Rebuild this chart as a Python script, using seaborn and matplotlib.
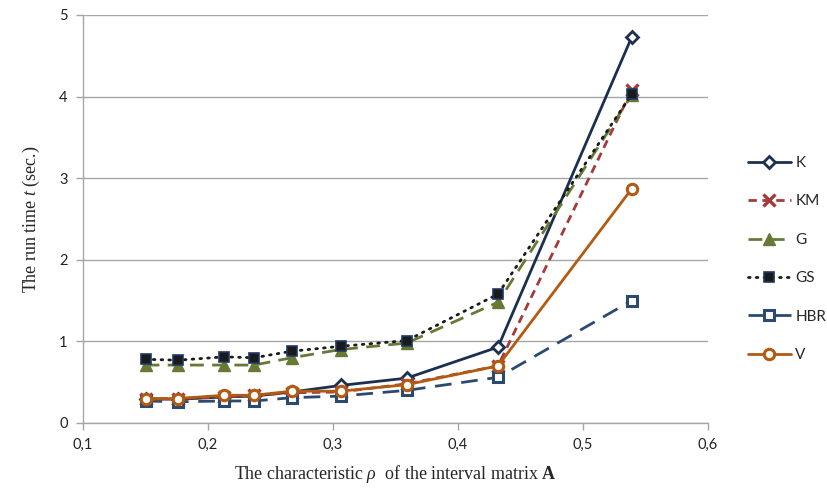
import matplotlib
matplotlib.use("Agg")
import matplotlib.pyplot as plt
import seaborn as sns
from matplotlib.ticker import FuncFormatter, MultipleLocator

rho = [0.150, 0.176, 0.213, 0.237, 0.267, 0.306, 0.359, 0.432, 0.539]
series_names = ["K", "KM", "G", "GS", "HBR", "V"]
K = [0.30, 0.29, 0.32, 0.33, 0.38, 0.46, 0.55, 0.93, 4.73]
KM = [0.29, 0.30, 0.32, 0.34, 0.37, 0.38, 0.48, 0.70, 4.08]
G = [0.71, 0.71, 0.71, 0.71, 0.80, 0.90, 0.98, 1.48, 4.02]
GS = [0.78, 0.77, 0.81, 0.80, 0.88, 0.94, 1.01, 1.58, 4.03]
HBR = [0.27, 0.26, 0.27, 0.27, 0.31, 0.33, 0.40, 0.56, 1.50]
V = [0.29, 0.30, 0.34, 0.34, 0.39, 0.39, 0.47, 0.70, 2.87]
values = {"K": K, "KM": KM, "G": G, "GS": GS, "HBR": HBR, "V": V}

sns.set_theme(style="white")
plt.rcParams["font.family"] = ["Lato", "DejaVu Sans"]
plt.rcParams["mathtext.fontset"] = "custom"
plt.rcParams["mathtext.rm"] = "Liberation Serif"
plt.rcParams["mathtext.it"] = "Liberation Serif:italic"
plt.rcParams["mathtext.bf"] = "Liberation Serif:bold"

fig = plt.figure(figsize=(8.27, 4.91), dpi=100)
ax = fig.add_axes([83 / 827, 1 - 423 / 491, (708 - 83) / 827, (423 - 15) / 491])

styles = {
    "K": dict(color="#1B2F4F", marker="D", markersize=6, markerfacecolor="white",
              markeredgecolor="#1B2F4F", markeredgewidth=2.0, linestyle="-"),
    "KM": dict(color="#A63A3A", marker="x", markersize=8, markeredgewidth=2.4,
               markeredgecolor="#A63A3A", linestyle=(0, (3, 2))),
    "G": dict(color="#667A35", marker="^", markersize=8, markerfacecolor="#667A35",
              markeredgecolor="#667A35", markeredgewidth=1.0, linestyle=(0, (5, 3))),
    "GS": dict(color="#1A1A1A", marker="s", markersize=6.5, markerfacecolor="#1A1A1A",
               markeredgecolor="#1F3864", markeredgewidth=1.2,
               linestyle=(0, (0.6, 2.2)), dash_capstyle="round"),
    "HBR": dict(color="#2C4A70", marker="s", markersize=6.5, markerfacecolor="white",
                markeredgecolor="#2C4A70", markeredgewidth=2.2, linestyle=(0, (6, 3.5))),
    "V": dict(color="#B35A12", marker="o", markersize=7.5, markerfacecolor="white",
              markeredgecolor="#B35A12", markeredgewidth=2.2, linestyle="-"),
}

for name in series_names:
    sns.lineplot(x=rho, y=values[name], ax=ax, linewidth=2.0, legend=False,
                 **styles[name])

handles = list(ax.lines)[-len(series_names):]

ax.set_xlim(0.1, 0.6)
ax.set_ylim(0, 5)
ax.xaxis.set_major_locator(MultipleLocator(0.1))
ax.yaxis.set_major_locator(MultipleLocator(1))
ax.xaxis.set_major_formatter(FuncFormatter(lambda v, p: f"{v:.1f}".replace(".", ",")))
ax.yaxis.set_major_formatter(FuncFormatter(lambda v, p: f"{v:.0f}"))
ax.grid(axis="y", color="#A6A6A6", linewidth=1.0)
ax.grid(axis="x", visible=False)
for s in ["top", "right"]:
    ax.spines[s].set_visible(False)
for s in ["left", "bottom"]:
    ax.spines[s].set_color("#A6A6A6")
    ax.spines[s].set_linewidth(1.0)
ax.tick_params(axis="both", which="major", direction="out", length=5, width=1,
               color="#A6A6A6", labelsize=10.5, labelcolor="#222222", pad=6,
               bottom=True, left=True)

ax.set_xlabel(r"The characteristic $\it{\rho}$  of the interval matrix $\mathbf{A}$",
              family="Liberation Serif", fontsize=13, labelpad=8)
ax.set_ylabel(r"The run time $\it{t}$ (sec.)", family="Liberation Serif",
              fontsize=13, labelpad=12)

ax.legend(handles, series_names, loc="upper left",
          bbox_to_anchor=(748 / 827, 1 - 156 / 491),
          bbox_transform=fig.transFigure, frameon=False, fontsize=11,
          labelspacing=1.6, handlelength=2.8, handletextpad=0.3, borderaxespad=0,
          borderpad=0)

fig.savefig("out.png", dpi=100)
